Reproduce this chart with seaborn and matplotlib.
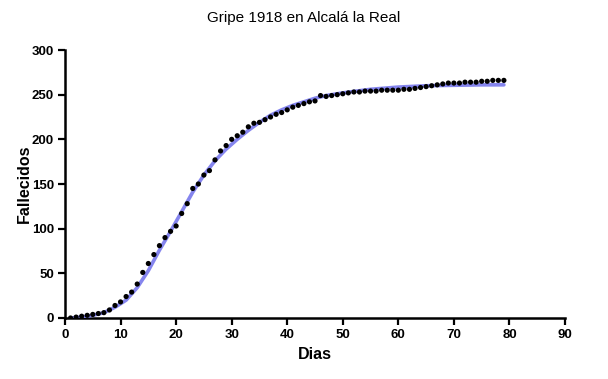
import matplotlib
matplotlib.use("Agg")
import matplotlib.pyplot as plt
import seaborn as sns
import pandas as pd

days = list(range(1, 80))
deaths = [0, 1, 2, 3, 4, 5, 6, 9, 14, 18,
          24, 29, 38, 51, 61, 71, 81, 90, 97, 103,
          117, 128, 145, 150, 160, 165, 177, 187, 193, 200,
          204, 208, 214, 218, 219, 222, 225, 228, 230, 233,
          236, 238, 240, 242, 243, 249, 248, 249, 250, 251,
          252, 253, 253, 254, 254, 254, 255, 255, 255, 255,
          256, 256, 257, 258, 259, 260, 261, 262, 263, 263,
          263, 264, 264, 264, 265, 265, 266, 266, 266]

fit_days = [1, 3, 5, 7, 9, 11, 13, 15, 17, 19, 21, 23, 25, 27, 29, 31, 33,
            35, 37, 39, 41, 43, 45, 47, 50, 55, 60, 65, 70, 75, 79]
fit_vals = [0, 1, 3, 6, 12, 20, 34, 53, 76, 97, 119, 141, 160, 176, 189, 200, 210,
            219, 227, 233, 238, 242, 246, 249, 252, 256, 258.5, 260, 260.5, 261, 261]

xticks = [0, 10, 20, 30, 40, 50, 60, 70, 80, 90]
yticks = [0, 50, 100, 150, 200, 250, 300]

sns.set_style("ticks")
plt.rcParams['font.family'] = ['Liberation Sans', 'DejaVu Sans']
plt.rcParams.update({"text.color": "black", "axes.labelcolor": "black",
                     "xtick.color": "black", "ytick.color": "black"})

fig = plt.figure(figsize=(6.08, 3.79), dpi=100)
ax = fig.add_axes([65/608, 61/379, 500/608, 268/379])

df_pts = pd.DataFrame({"Dias": days, "Fallecidos": deaths})
df_fit = pd.DataFrame({"Dias": fit_days, "Fallecidos": fit_vals})

sns.lineplot(data=df_fit, x="Dias", y="Fallecidos", ax=ax, color="#8585ee",
             linewidth=2.6, zorder=3)
sns.scatterplot(data=df_pts, x="Dias", y="Fallecidos", ax=ax, color="black",
                s=14, edgecolor="none", zorder=4)

ax.set_xlim(0, 90)
ax.set_ylim(0, 300)
ax.set_xticks(xticks)
ax.set_yticks(yticks)
ax.tick_params(axis="both", direction="out", length=5, width=1.6, labelsize=9.5,
               pad=3, color="black", labelcolor="black")
for lab in ax.get_xticklabels() + ax.get_yticklabels():
    lab.set_fontweight("bold")
for s in ["top", "right"]:
    ax.spines[s].set_visible(False)
for s in ["left", "bottom"]:
    ax.spines[s].set_linewidth(1.8)
    ax.spines[s].set_color("black")

ax.set_xlabel("Dias", fontsize=11.5, fontweight="bold", labelpad=4, color="black")
ax.set_ylabel("Fallecidos", fontsize=11.5, fontweight="bold", labelpad=0, color="black")
fig.text(0.5, 1 - 18/379, "Gripe 1918 en Alcalá la Real", ha="center", va="center",
         fontsize=11, color="black")

fig.savefig("out.png", dpi=100)
